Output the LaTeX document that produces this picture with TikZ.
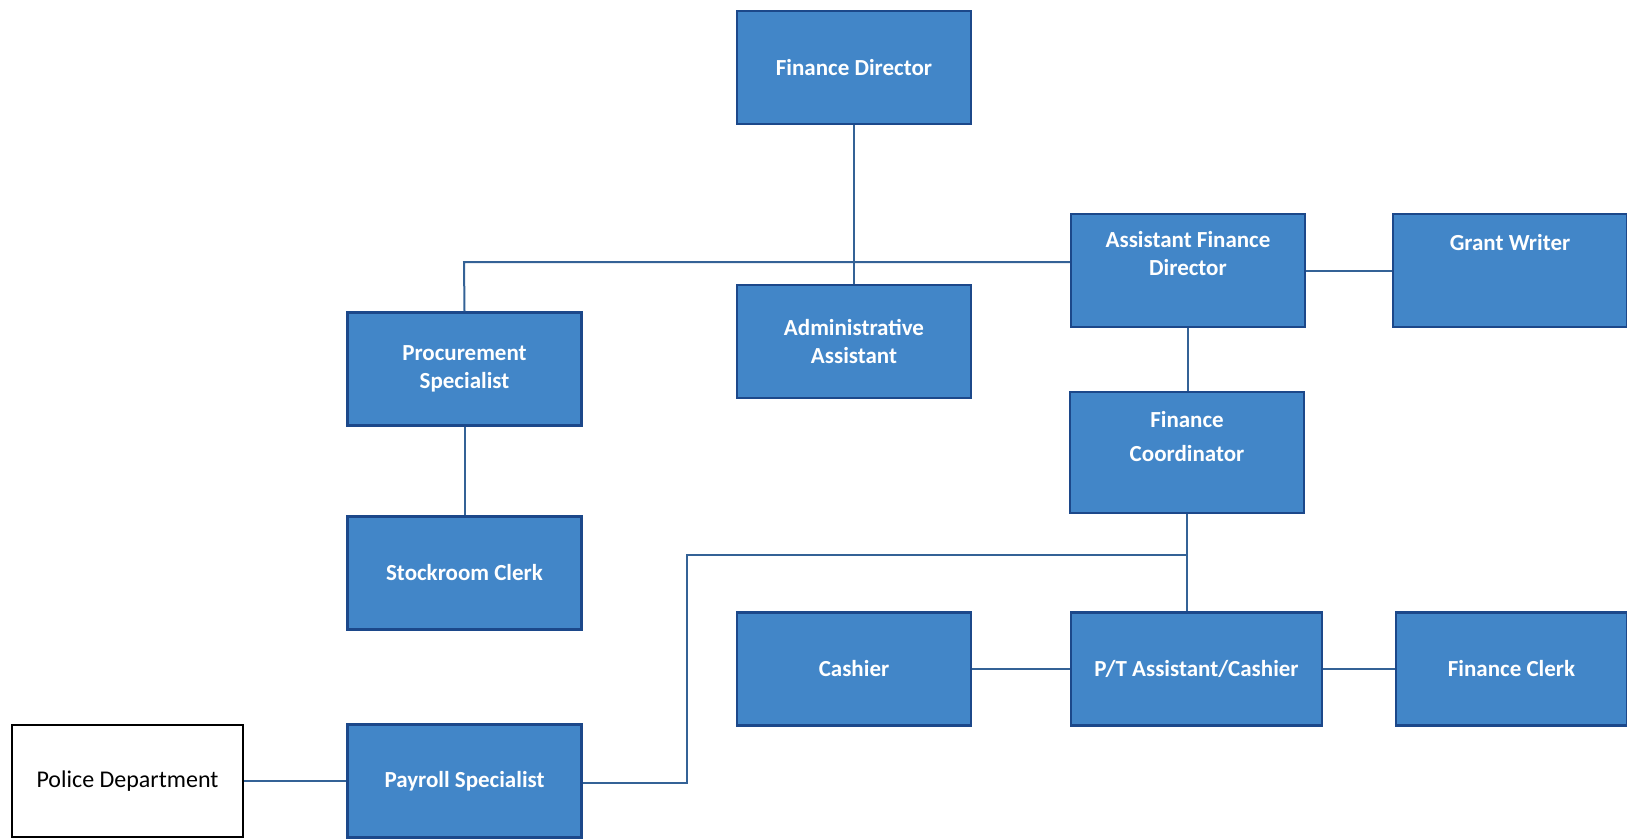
\documentclass[tikz,border=0pt]{standalone}
\usepackage{fontspec}
\setmainfont{Carlito}
\usetikzlibrary{calc}

\definecolor{boxfill}{RGB}{66,134,200}
\definecolor{boxedge}{RGB}{28,72,138}
\definecolor{linkcol}{RGB}{52,98,150}

\begin{document}
\begin{tikzpicture}[x=0.5pt,y=-0.5pt,
    post/.style={draw=boxedge,fill=boxfill,line width=1.2pt,minimum width=117pt,minimum height=56.5pt,
      inner sep=0pt,align=center,text=white,font=\fontsize{11.5}{14}\selectfont\bfseries},
    toptext/.style={text=white,align=center,font=\fontsize{11.5}{14}\selectfont\bfseries},
    link/.style={draw=linkcol,line width=1pt}]

  % fixes the page to the reference size
  \useasboundingbox (0,0) rectangle (1627,840);

  % top of the tree
  \node[post] (fd) at (854,67.5) {Finance Director};
  \node[post] (aa) at (854,341.5) {Administrative\\Assistant};

  % assistant director row               text sits near the top of these two
  \node[post] (afd) at (1188,270.5) {};
  \node[toptext,anchor=north] (afdt) at ($(afd.north)+(0,11)$) {Assistant Finance\\Director};
  \node[post] (gw) at (1510,270.5) {};
  \node[toptext,anchor=north] (gwt) at ($(gw.north)+(0,14)$) {Grant Writer};

  % left column
  \node[post] (ps) at (464.5,369) {Procurement\\Specialist};
  \node[post] (sc) at (464.5,573) {Stockroom Clerk};
  \node[post] (pay) at (464.5,781) {Payroll Specialist};
  \node[draw=black,fill=white,line width=0.8pt,minimum width=115.5pt,minimum height=56pt,
    font=\fontsize{12}{14}\selectfont] (pol) at (127.5,781) {Police Department};

  % coordinator and bottom row
  \node[post,minimum height=60.5pt] (fc) at (1187,452.5) {};
  \node[toptext,anchor=north,font=\fontsize{11.5}{17}\selectfont\bfseries] (fct) at ($(fc.north)+(0,13)$) {Finance\\Coordinator};
  \node[post] (cash) at (854,669) {Cashier};
  \node[post,minimum width=125.5pt] (pt) at (1196.5,669) {P/T Assistant/Cashier};
  \node[post,minimum width=115.5pt] (fcl) at (1511.5,669) {Finance Clerk};

  % bus lines
  \coordinate (bus) at (464,262);
  \coordinate (jn) at (687,555);

  \draw[link] (fd.south) -- (aa.north);
  \draw[link] (ps.north) -- (bus) -- (bus -| afd.west);
  \draw[link] (ps.south) -- (sc.north);
  \draw[link] (afd.east) -- (gw.west);
  \draw[link] (afd.south) -- (afd.south |- fc.north);
  \draw[link] (fc.south) -- (fc.south |- pt.north);
  \draw[link] (fc.south |- jn) -- (jn) |- ($(pay.east)+(0,2)$);
  \draw[link] (cash.east) -- (pt.west);
  \draw[link] (pt.east) -- (fcl.west);
  \draw[link] (pol.east) -- (pay.west);
\end{tikzpicture}
\end{document}
